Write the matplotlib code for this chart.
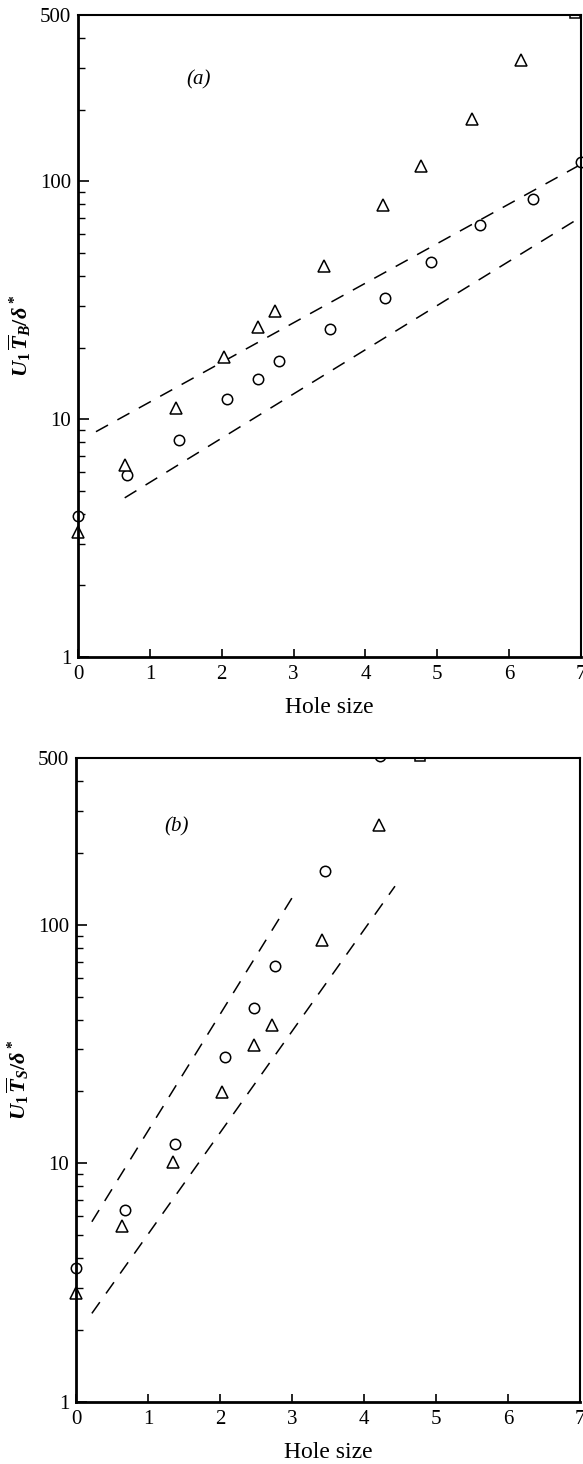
import numpy as np
import matplotlib
matplotlib.use("Agg")
import matplotlib.pyplot as plt
from matplotlib.ticker import LogLocator, FixedLocator, NullFormatter

plt.rcParams['font.family'] = ['Liberation Serif', 'DejaVu Serif']
plt.rcParams['mathtext.fontset'] = 'custom'
plt.rcParams['mathtext.rm'] = 'Liberation Serif:bold'
plt.rcParams['mathtext.it'] = 'Liberation Serif:italic:bold'

# panel (a): bursting period
a_circ_x = [0.0, 0.68, 1.40, 2.08, 2.50, 2.80, 3.50, 4.27, 4.91, 5.60, 6.33, 7.0]
a_circ_y = [3.9, 5.8, 8.2, 12.1, 14.8, 17.5, 24.0, 32.3, 45.6, 65.3, 84.6, 121.0]
a_tri_x = [0.0, 0.65, 1.37, 2.03, 2.50, 2.74, 3.42, 4.25, 4.78, 5.48, 6.17]
a_tri_y = [3.36, 6.4, 11.1, 18.3, 24.3, 28.4, 43.9, 79.8, 115.7, 182.0, 325.0]
a_off_x = [6.91]          # off scale (square)
a_dash_up = ([0.25, 6.98], [8.86, 117.0])
a_dash_lo = ([0.65, 6.98], [4.67, 70.2])

# panel (b): sweep period
b_circ_x = [0.0, 0.68, 1.37, 2.07, 2.47, 2.77, 3.46]
b_circ_y = [3.65, 6.37, 12.0, 28.0, 44.6, 67.3, 168.0]
b_tri_x = [0.0, 0.64, 1.35, 2.03, 2.47, 2.72, 3.41, 4.21]
b_tri_y = [2.86, 5.45, 10.1, 19.9, 31.3, 38.0, 86.3, 262.0]
b_off_circ_x = [4.22]     # off scale
b_off_sq_x = [4.78]
b_dash_up = ([0.22, 3.01], [5.69, 131.0])
b_dash_lo = ([0.22, 4.43], [2.35, 145.0])

yticks = [1, 10, 100, 500]
ylabels = ['1', '10', '100', '500']
xticks = [0, 1, 2, 3, 4, 5, 6, 7]

fig = plt.figure(figsize=(5.83, 14.64), dpi=100)
ax_a = fig.add_axes([0.1338, 0.5512, 0.8628, 0.4385])
ax_b = fig.add_axes([0.1304, 0.0424, 0.8645, 0.4399])


def style(ax, ylab, tag, tag_xy):
    ax.set_yscale('log')
    ax.set_xlim(0, 7)
    ax.set_ylim(1, 500)
    ax.yaxis.set_major_locator(FixedLocator(yticks))
    ax.set_yticklabels(ylabels)
    ax.yaxis.set_minor_locator(LogLocator(base=10, subs=np.arange(2, 10)))
    ax.yaxis.set_minor_formatter(NullFormatter())
    ax.set_xticks(xticks)
    ax.tick_params(axis='y', which='major', direction='in', length=8, width=1.2,
                   labelsize=15, pad=5)
    ax.tick_params(axis='y', which='minor', direction='in', length=5, width=1)
    ax.tick_params(axis='x', which='major', direction='in', length=6, width=1.2,
                   labelsize=15, pad=6)
    for s in ax.spines.values():
        s.set_linewidth(1.5)
    ax.spines['left'].set_linewidth(2)
    ax.spines['bottom'].set_linewidth(2)
    ax.set_xlabel('Hole size', fontsize=17, labelpad=9)
    ax.set_ylabel(ylab, fontsize=16, labelpad=5)
    ax.text(tag_xy[0], tag_xy[1], tag, fontsize=15, style='italic')


mk = dict(linestyle='none', mfc='white', mec='black', mew=1.1, clip_on=False)
dash = dict(color='black', lw=1.1, dashes=(9, 7))

ax_a.plot(a_dash_up[0], a_dash_up[1], **dash)
ax_a.plot(a_dash_lo[0], a_dash_lo[1], **dash)
ax_a.plot(a_circ_x, a_circ_y, marker='o', ms=7.5, **mk)
ax_a.plot(a_tri_x, a_tri_y, marker='^', ms=8, **mk)
ax_a.plot(a_off_x, [510] * len(a_off_x), marker='s', ms=7, linestyle='none',
          mfc='white', mec='black', mew=1.1, clip_on=True)
style(ax_a, r'$U_1\,\overline{T}_B/\delta^*$', '(a)', (1.5, 255))

ax_b.plot(b_dash_up[0], b_dash_up[1], **dash)
ax_b.plot(b_dash_lo[0], b_dash_lo[1], **dash)
ax_b.plot(b_circ_x, b_circ_y, marker='o', ms=7.5, **mk)
ax_b.plot(b_tri_x, b_tri_y, marker='^', ms=8, **mk)
ax_b.plot(b_off_circ_x, [510] * len(b_off_circ_x), marker='o', ms=7.5, linestyle='none',
          mfc='white', mec='black', mew=1.1, clip_on=True)
ax_b.plot(b_off_sq_x, [510] * len(b_off_sq_x), marker='s', ms=7, linestyle='none',
          mfc='white', mec='black', mew=1.1, clip_on=True)
style(ax_b, r'$U_1\,\overline{T}_S/\delta^*$', '(b)', (1.22, 245))

fig.savefig('out.png', dpi=100)
